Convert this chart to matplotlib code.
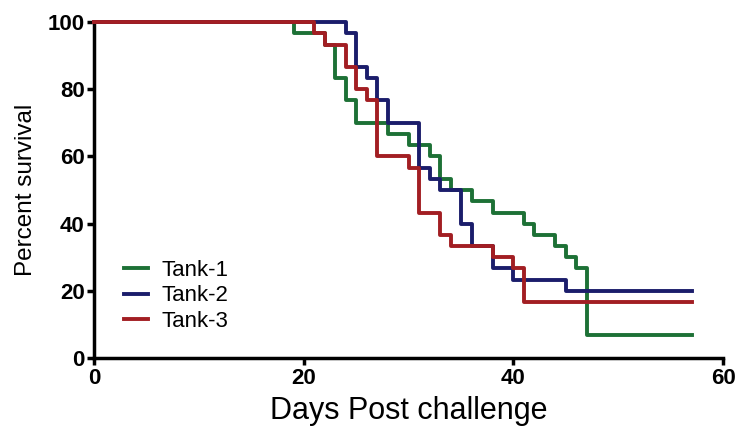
import matplotlib
matplotlib.use("Agg")
import matplotlib.pyplot as plt

# survival curves, step values (percent) at each event day
tank1_days = [0, 19, 22, 23, 24, 25, 28, 30, 32, 33, 34, 36, 38, 41, 42, 44, 45, 46, 47, 57]
tank1_surv = [100, 96.7, 93.3, 83.3, 76.7, 70, 66.7, 63.3, 60, 53.3, 50, 46.7, 43.3, 40, 36.7, 33.3, 30, 26.7, 6.7, 6.7]

tank2_days = [0, 24, 25, 26, 27, 28, 31, 32, 33, 35, 36, 38, 40, 45, 57]
tank2_surv = [100, 96.7, 86.7, 83.3, 76.7, 70, 56.7, 53.3, 50, 40, 33.3, 26.7, 23.3, 20, 20]

tank3_days = [0, 21, 22, 24, 25, 26, 27, 30, 31, 33, 34, 38, 40, 41, 57]
tank3_surv = [100, 96.7, 93.3, 86.7, 80, 76.7, 60, 56.7, 43.3, 36.7, 33.3, 30, 26.7, 16.7, 16.7]

labels = ["Tank-1", "Tank-2", "Tank-3"]
colors = ["#1d7136", "#1b1d6b", "#a21e23"]

plt.rcParams['font.family'] = ['Liberation Sans', 'DejaVu Sans']

fig = plt.figure(figsize=(7.54, 4.41), dpi=100)
ax = fig.add_axes([0.1253, 0.1882, 0.8336, 0.7618])

series = [(tank1_days, tank1_surv), (tank2_days, tank2_surv), (tank3_days, tank3_surv)]
for (d, s), lab, c in zip(series, labels, colors):
    ax.step(d, s, where='post', color=c, lw=2.8, label=lab, clip_on=False, zorder=3)

ax.set_xlim(0, 60)
ax.set_ylim(0, 100)
ax.set_xticks([0, 20, 40, 60])
ax.set_yticks([0, 20, 40, 60, 80, 100])

for side in ['top', 'right']:
    ax.spines[side].set_visible(False)
for side in ['left', 'bottom']:
    ax.spines[side].set_linewidth(2.5)
ax.tick_params(direction='out', length=5, width=2.5, labelsize=16, pad=2)
for t in ax.get_xticklabels() + ax.get_yticklabels():
    t.set_fontweight('bold')

ax.set_xlabel("Days Post challenge", fontsize=22, labelpad=5)
ax.set_ylabel("Percent survival", fontsize=17.5, labelpad=8)

ax.legend(loc='center left', bbox_to_anchor=(0.03, 0.185), frameon=False,
          fontsize=16, handlelength=1.05, handletextpad=0.6, labelspacing=0.2,
          borderpad=0)

fig.savefig("out.png", dpi=100)
